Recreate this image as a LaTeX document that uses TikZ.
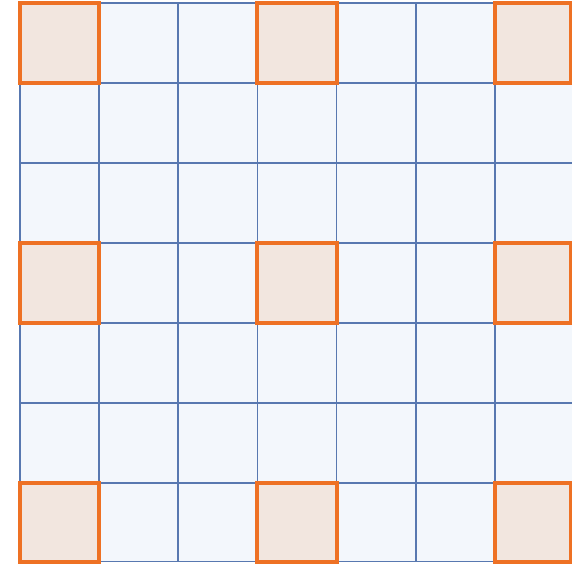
\documentclass[tikz,border=0pt]{standalone}
\usetikzlibrary{positioning}
\definecolor{cellfill}{HTML}{F3F7FC}
\definecolor{gridblue}{HTML}{5878B0}
\definecolor{hotfill}{HTML}{F2E6DF}
\definecolor{hotline}{HTML}{EE7124}

\begin{document}
\begin{tikzpicture}[x=1pt,y=-1pt,
  cell/.style={draw=gridblue, fill=cellfill, line width=1.6pt,
    minimum width=79.2pt, minimum height=80pt, inner sep=0pt, outer sep=0pt, anchor=north west},
  hot/.style={cell, draw=hotline, fill=hotfill, line width=4pt}]
  \useasboundingbox (0,0) rectangle (572,563);
  \clip (0,0) rectangle (572,563);
  \fill[white] (0,0) rectangle (572,563);
  % grid of cells (runs off the right edge)
  \foreach \r/\y/\h in {0/3/80, 1/83/80, 2/163/80, 3/243/80, 4/323/80, 5/403/80, 6/483/78.5}
    \foreach \c/\x in {0/19.8, 1/99, 2/178.2, 3/257.4, 4/336.6, 5/415.8, 6/495}
      \node[cell, minimum height=\h pt] (c\r\c) at (\x,\y) {};
  % highlighted cells
  \foreach \r/\y/\h in {0/3/80, 3/243/80, 6/483/78.5}
    \foreach \c/\x/\w in {0/19.8/79.2, 3/257.4/79.2, 6/495/76.2}
      \node[hot, minimum width=\w pt, minimum height=\h pt] (h\r\c) at (\x,\y) {};
\end{tikzpicture}
\end{document}
